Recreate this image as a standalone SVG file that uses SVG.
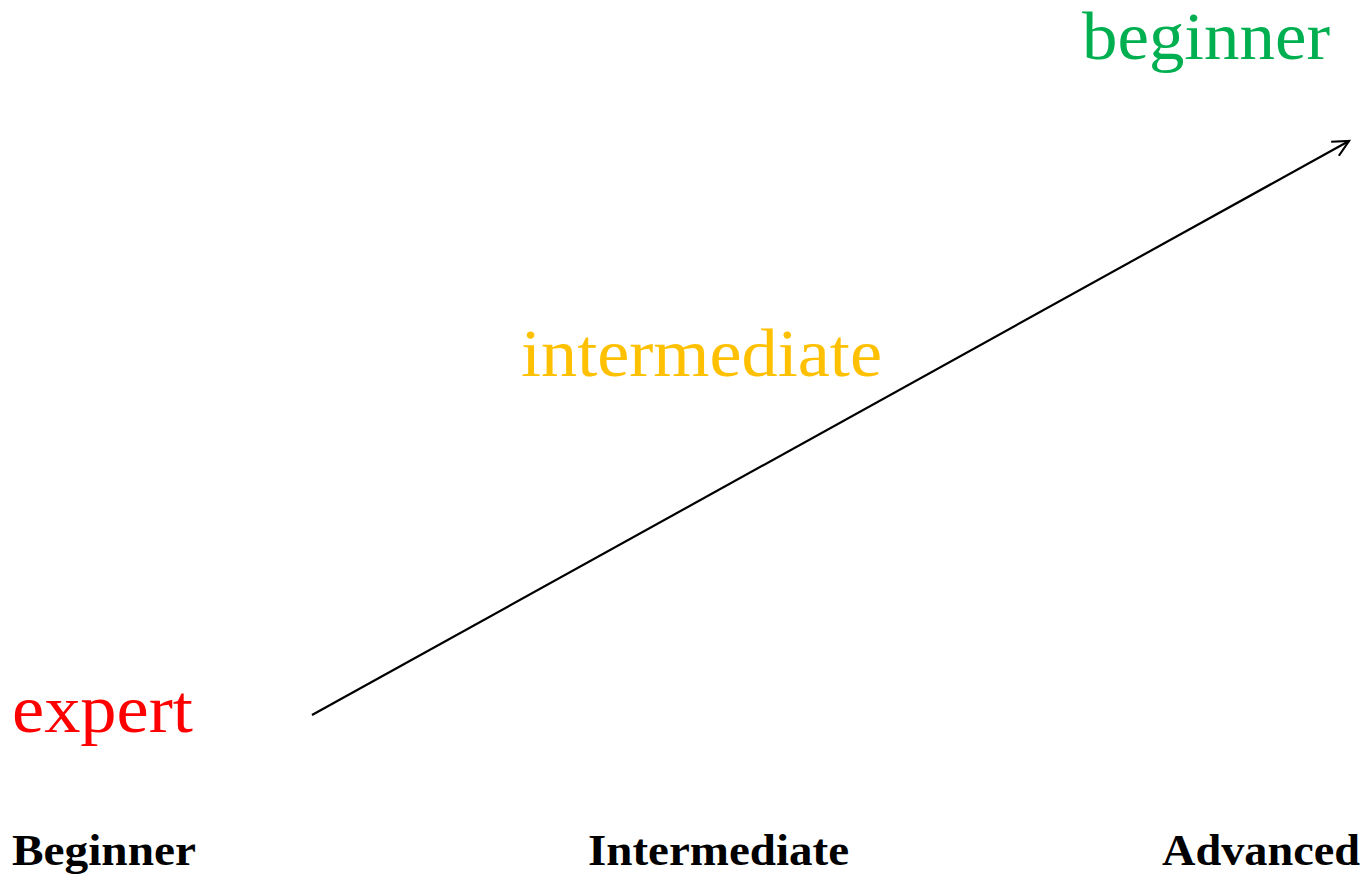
<svg xmlns="http://www.w3.org/2000/svg" width="1369" height="880" viewBox="0 0 1369 880">
<defs>
<style>
.lbl{font-family:"Liberation Serif","Times New Roman",serif;font-size:68px}
.axis{font-family:"Liberation Serif","Times New Roman",serif;font-size:44px;font-weight:bold;fill:#000}
</style>
<marker id="arr" markerWidth="24" markerHeight="24" refX="20" refY="12" orient="auto" markerUnits="userSpaceOnUse">
<path d="M4,4 L20,12 L4,20" fill="none" stroke="#000" stroke-width="2.2"/>
</marker>
</defs>
<rect width="1369" height="880" fill="#fff"/>
<g id="connectors">
<line x1="312" y1="715" x2="1349" y2="141" stroke="#000" stroke-width="2.2" marker-end="url(#arr)"/>
</g>
<g id="node-beginner"><text class="lbl" x="1082" y="59" fill="#00B050" textLength="248" lengthAdjust="spacingAndGlyphs">beginner</text></g>
<g id="node-intermediate"><text class="lbl" x="521" y="376" fill="#FFC000" textLength="361" lengthAdjust="spacingAndGlyphs">intermediate</text></g>
<g id="node-expert"><text class="lbl" x="12" y="732" fill="#FF0000" textLength="181" lengthAdjust="spacingAndGlyphs">expert</text></g>
<g id="axis-beginner"><text class="axis" x="12" y="865" textLength="184" lengthAdjust="spacingAndGlyphs">Beginner</text></g>
<g id="axis-intermediate"><text class="axis" x="588" y="865" textLength="261" lengthAdjust="spacingAndGlyphs">Intermediate</text></g>
<g id="axis-advanced"><text class="axis" x="1162" y="865" textLength="198" lengthAdjust="spacingAndGlyphs">Advanced</text></g>
</svg>
